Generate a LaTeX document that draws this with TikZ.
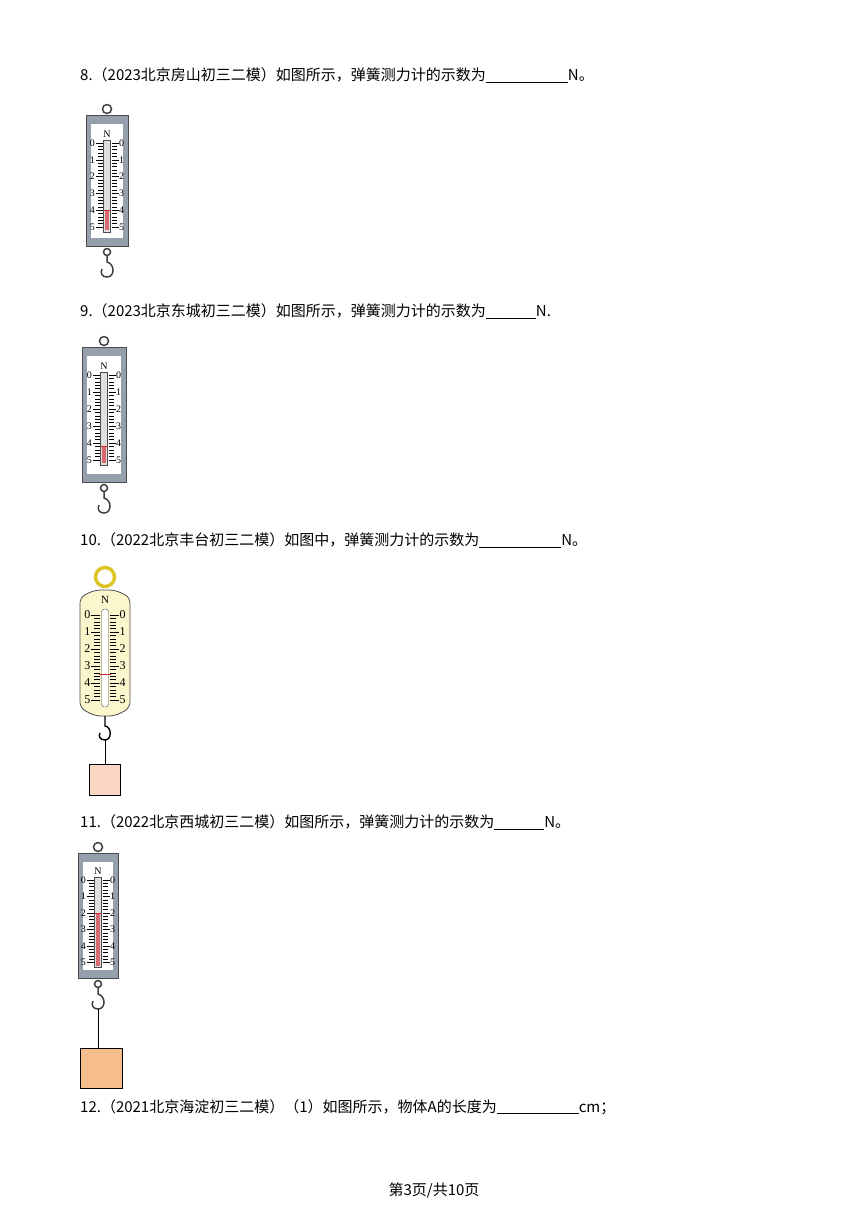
\documentclass[tikz,border=0pt]{standalone}
\usepackage{fontspec}
\setmainfont{Liberation Serif}
\newfontfamily\cjk{Noto Sans CJK SC}
\definecolor{framegray}{RGB}{150,160,172}
\definecolor{panelyellow}{RGB}{252,246,204}
\definecolor{ringyellow}{RGB}{222,196,40}
\definecolor{boxpink}{RGB}{250,214,196}
\definecolor{boxorange}{RGB}{246,190,140}
\definecolor{redbar}{RGB}{200,40,50}
\tikzset{
	question/.style={anchor=west, inner sep=0pt, font=\fontsize{15}{17}\selectfont\cjk},
	body/.style={draw=gray!60!black, fill=framegray, line width=0.8pt},
	panel/.style={fill=white},
	tube/.style={draw=gray!60!black, fill=gray!25, line width=0.5pt},
	scalemark/.style={font=\fontsize{10}{11}\selectfont, inner sep=0.5pt},
	hookline/.style={draw=gray!50!black, line width=1.5pt},
	string/.style={draw=black, line width=0.8pt},
}
% #1 name, #2 centre x, #3 top, #4 bottom, #5 half width, #6 y of 0, #7 step, #8 reading
\newcommand\springscale[8]{%
	\draw[hookline] (#2,#3-6) circle (4.5);
	\draw[body] (#2-#5,#3) rectangle (#2+#5,#4);
	\fill[panel] (#2-#5+5,#3+9) rectangle (#2+#5-5,#4-8);
	\node[scalemark, font=\fontsize{10}{11}\selectfont] (#1N) at (#2,#6-9) {N};
	\draw[tube] (#2-3.5,#6-3) rectangle (#2+3.5,#6+5*#7+5);
	\fill[redbar!70] (#2-2,#6+#8*#7) rectangle (#2+2,#6+5*#7+3);
	\draw[redbar, line width=0.8pt] (#2-3.5,#6+#8*#7) -- (#2+3.5,#6+#8*#7);
	\foreach \i in {0,...,25}{
		\pgfmathsetmacro\len{ifthenelse(mod(\i,5)==0,7,5)}
		\draw[line width=0.5pt] (#2-4.5,#6+\i*#7/5) -- ++(-\len,0);
		\draw[line width=0.5pt] (#2+4.5,#6+\i*#7/5) -- ++(\len,0);
	}
	\foreach \n in {0,...,5}{
		\node[scalemark, anchor=east] at (#2-11.5,#6+\n*#7) {\n};
		\node[scalemark, anchor=west] at (#2+11.5,#6+\n*#7) {\n};
	}
	\draw[hookline] (#2,#4+6) circle (3.5);
	\draw[hookline] (#2,#4+10) -- (#2,#4+16)
		.. controls (#2+8,#4+18) and (#2+8,#4+31) .. (#2,#4+31)
		.. controls (#2-5,#4+31) and (#2-7,#4+27) .. (#2-5,#4+23);
	\coordinate (#1hook) at (#2,#4+31);
}
\begin{document}
\begin{tikzpicture}[x=1pt, y=-1pt]
	\useasboundingbox (0,0) rectangle (868,1227);
	% question texts
	\node[question] (q8) at (80,75) {8.（2023北京房山初三二模）如图所示，弹簧测力计的示数为\underline{\hspace{82pt}}N。};
	\node[question] (q9) at (80,311) {9.（2023北京东城初三二模）如图所示，弹簧测力计的示数为\underline{\hspace{50pt}}N.};
	\node[question] (q10) at (80,540) {10.（2022北京丰台初三二模）如图中，弹簧测力计的示数为\underline{\hspace{82pt}}N。};
	\node[question] (q11) at (80,822) {11.（2022北京西城初三二模）如图所示，弹簧测力计的示数为\underline{\hspace{50pt}}N。};
	\node[question] (q12) at (80,1107) {12.（2021北京海淀初三二模）（1）如图所示，物体A的长度为\underline{\hspace{82pt}}cm；};
	\node[question, anchor=center] (foot) at (434,1190) {第3页/共10页};
	% scale 8
	\springscale{sa}{107}{115}{246}{21}{143}{16.8}{4}
	% scale 9
	\springscale{sb}{104}{347}{482}{22}{375}{17}{4.2}
	% scale 10
	\draw[ringyellow, line width=3.5pt] (105,577) circle (9.5);
	\draw[draw=gray!60!black, fill=panelyellow, line width=0.8pt, rounded corners=6pt]
		(80,597) -- (95,590) -- (115,590) -- (130,597) -- (130,708) -- (115,716) -- (95,716) -- (80,708) -- cycle;
	\node[scalemark, font=\fontsize{11}{12}\selectfont] (scN) at (105,600) {N};
	\draw[draw=gray!60!black, fill=white, rounded corners=3pt] (101.5,609) rectangle (108.5,707);
	\draw[redbar, line width=1pt] (99,674) -- (111,674);
	\foreach \i in {0,...,25}{
		\pgfmathsetmacro\len{ifthenelse(mod(\i,5)==0,9,6)}
		\draw[line width=0.5pt] (100,615+\i*3.4) -- ++(-\len,0);
		\draw[line width=0.5pt] (110,615+\i*3.4) -- ++(\len,0);
	}
	\foreach \n in {0,...,5}{
		\node[scalemark, font=\fontsize{12}{13}\selectfont, anchor=east] at (91,615+\n*17) {\n};
		\node[scalemark, font=\fontsize{12}{13}\selectfont, anchor=west] at (119,615+\n*17) {\n};
	}
	\draw[black, line width=1.4pt] (105,716) -- (105,726)
		.. controls (112,727) and (112,740) .. (105,740)
		.. controls (100,740) and (98,736) .. (100,733);
	\coordinate (schook) at (105,740);
	\node[draw, fill=boxpink, minimum width=31pt, minimum height=31pt, inner sep=0pt] (scbox) at (105,780) {};
	\draw[string] (schook) -- (scbox.north);
	% scale 11
	\springscale{sd}{98}{853}{978}{20}{880}{16.5}{2}
	\node[draw, fill=boxorange, minimum width=42pt, minimum height=40pt, inner sep=0pt] (sdbox) at (101,1068) {};
	\draw[string] (sdhook) -- (sdhook |- sdbox.north);
\end{tikzpicture}
\end{document}
